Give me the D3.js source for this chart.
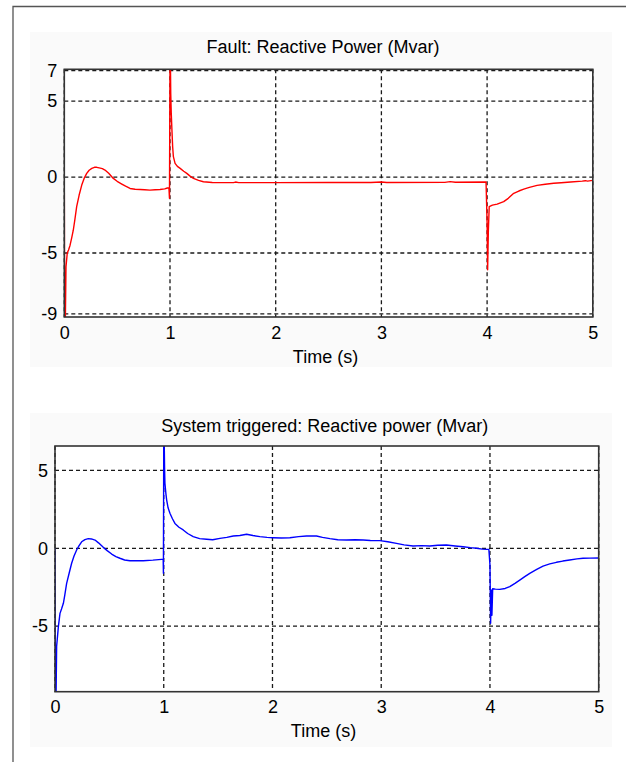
<!DOCTYPE html>
<html>
<head>
<meta charset="utf-8">
<script src="https://cdn.jsdelivr.net/npm/d3@7"></script>
<style>
    html, body { margin: 0; padding: 0; background: #fff; }
    svg { display: block; }
    text { font-family: "Liberation Sans", Arial, sans-serif; fill: #000; }
</style>
</head>
<body>
<div id="chart"></div>
<script>
// --- data --------------------------------------------------------------
var xTicks = [0, 1, 2, 3, 4, 5];
var faultYTicks = [-9, -5, 0, 5, 7];
var systemYTicks = [-5, 0, 5];

var faultTime = [0, 0.003, 0.01, 0.016, 0.028, 0.04, 0.054, 0.07, 0.085, 0.1, 0.117, 0.14, 0.165, 0.19,
    0.212, 0.235, 0.26, 0.285, 0.307, 0.33, 0.36, 0.385, 0.42, 0.464, 0.5, 0.544, 0.58, 0.622, 0.67,
    0.717, 0.76, 0.81, 0.86, 0.906, 0.95, 0.975, 0.99, 0.995, 1.0, 1.004, 1.007, 1.012, 1.017, 1.025,
    1.032, 1.048, 1.07, 1.096, 1.13, 1.159, 1.19, 1.222, 1.27, 1.316, 1.4, 1.6, 1.62, 1.65, 2.0, 2.5,
    2.9, 3.0, 3.05, 3.6, 3.65, 3.7, 3.99, 4.0, 4.005, 4.012, 4.02, 4.05, 4.095, 4.157, 4.2, 4.252, 4.3,
    4.347, 4.4, 4.473, 4.55, 4.63, 4.7, 4.79, 4.9, 4.93, 4.95, 5.0];
var faultQ = [0, -9.4, -9.4, -5.9, -5.0, -4.8, -4.5, -4.0, -3.5, -2.8, -1.95, -1.2, -0.53, -0.05,
    0.24, 0.45, 0.57, 0.64, 0.64, 0.6, 0.55, 0.46, 0.25, -0.09, -0.28, -0.46, -0.6, -0.75, -0.8,
    -0.82, -0.84, -0.86, -0.84, -0.82, -0.78, -0.72, -0.72, -1.4, 7.5, 7.5, 5.5, 4.2, 3.3, 2.0,
    1.34, 0.9, 0.7, 0.57, 0.38, 0.24, 0.06, -0.09, -0.22, -0.31, -0.36, -0.37, -0.33, -0.37, -0.37, -0.36,
    -0.36, -0.33, -0.36, -0.35, -0.3, -0.34, -0.33, -3.0, -6.1, -3.5, -1.95, -1.85, -1.78, -1.62, -1.4, -1.07, -0.92,
    -0.79, -0.68, -0.55, -0.47, -0.41, -0.38, -0.33, -0.27, -0.24, -0.27, -0.22];

var systemTime = [0, 0.003, 0.01, 0.015, 0.031, 0.046, 0.06, 0.077, 0.09, 0.107, 0.13, 0.153, 0.175,
    0.199, 0.22, 0.245, 0.275, 0.306, 0.335, 0.368, 0.4, 0.444, 0.48, 0.521, 0.56, 0.597, 0.64, 0.689,
    0.75, 0.812, 0.9, 0.98, 0.995, 0.997, 1.0, 1.004, 1.008, 1.011, 1.02, 1.027, 1.04, 1.057, 1.08,
    1.103, 1.14, 1.179, 1.22, 1.271, 1.33, 1.394, 1.45, 1.517, 1.58, 1.639, 1.7, 1.762, 1.82, 1.884,
    1.95, 2.006, 2.08, 2.16, 2.24, 2.313, 2.405, 2.46, 2.528, 2.6, 2.681, 2.76, 2.834, 2.9, 2.987,
    3.06, 3.14, 3.21, 3.293, 3.37, 3.447, 3.52, 3.6, 3.68, 3.753, 3.82, 3.876, 3.93, 3.968, 3.99,
    4.0, 4.006, 4.012, 4.018, 4.025, 4.05, 4.09, 4.14, 4.182, 4.23, 4.274, 4.32, 4.366, 4.43, 4.488,
    4.55, 4.611, 4.67, 4.733, 4.8, 4.856, 4.92, 5.0];
var systemQ = [0, -9.4, -9.4, -6.3, -5.03, -4.18, -3.9, -3.53, -3.0, -2.25, -1.6, -0.96, -0.5,
    -0.11, 0.15, 0.42, 0.56, 0.62, 0.6, 0.53, 0.35, 0.06, -0.15, -0.37, -0.53, -0.64, -0.75, -0.8,
    -0.8, -0.8, -0.76, -0.71, -0.71, -1.6, 7, 7, 5.0, 4.17, 3.5, 3.1, 2.6, 2.25, 1.9,
    1.6, 1.35, 1.18, 0.95, 0.75, 0.62, 0.58, 0.55, 0.64, 0.7, 0.79, 0.82, 0.9, 0.82, 0.75,
    0.7, 0.68, 0.66, 0.68, 0.75, 0.79, 0.79, 0.7, 0.62, 0.55, 0.53, 0.55, 0.53, 0.5, 0.49,
    0.42, 0.32, 0.22, 0.15, 0.17, 0.15, 0.2, 0.21, 0.15, 0.1, 0.04, 0, -0.05, -0.07, -0.07,
    -1.07, -4.82, -2.68, -4.3, -2.6, -2.62, -2.64, -2.58, -2.46, -2.25, -2.04, -1.82, -1.61, -1.35, -1.14,
    -1.0, -0.9, -0.82, -0.75, -0.68, -0.64, -0.63, -0.62];

// --- layout -------------------------------------------------------------
var W = 626, H = 762;

var svg = d3.select('#chart').append('svg')
    .attr('width', W)
    .attr('height', H);

// outer window frame
svg.append('path')
    .attr('d', 'M13,762 L13,6.5 L626,6.5')
    .attr('fill', 'none')
    .attr('stroke', '#555')
    .attr('stroke-width', 1.3);

var panels = [
    {
        id: 'fault', title: 'Fault: Reactive Power (Mvar)', color: '#ff0000',
        time: faultTime, values: faultQ, yTicks: faultYTicks, yDomain: [-9.21, 7.09],
        bg: [30, 32, 612, 367], left: 64.3, right: 592.8, top: 69.3, bottom: 317,
        titleX: 323, titleY: 53, labelX: 325.5, labelY: 363, xPad: 9.7
    },
    {
        id: 'system', title: 'System triggered: Reactive power (Mvar)', color: '#0000ff',
        time: systemTime, values: systemQ, yTicks: systemYTicks, yDomain: [-9.21, 6.57],
        bg: [30, 413, 612, 747], left: 55, right: 598.7, top: 446, bottom: 691.7,
        titleX: 324.7, titleY: 431.7, labelX: 323.5, labelY: 736.7, xPad: 8.7
    }
];

panels.forEach(drawPanel);

function drawPanel(p) {
    // light grey figure background
    svg.append('rect')
        .attr('x', p.bg[0]).attr('y', p.bg[1])
        .attr('width', p.bg[2] - p.bg[0])
        .attr('height', p.bg[3] - p.bg[1])
        .attr('fill', '#fafafa');

    var x = d3.scaleLinear().domain([0, 5]).range([p.left, p.right]);
    var y = d3.scaleLinear().domain(p.yDomain).range([p.bottom, p.top]);

    // plot area
    svg.append('rect')
        .attr('x', p.left).attr('y', p.top)
        .attr('width', p.right - p.left)
        .attr('height', p.bottom - p.top)
        .attr('fill', '#fff');

    var grid = svg.append('g').attr('class', 'grid');

    grid.selectAll('line.v')
        .data(xTicks)
        .enter().append('line')
        .attr('class', 'v')
        .attr('x1', d => x(d)).attr('x2', d => x(d))
        .attr('y1', p.top).attr('y2', p.bottom);

    grid.selectAll('line.h')
        .data(p.yTicks)
        .enter().append('line')
        .attr('class', 'h')
        .attr('x1', p.left).attr('x2', p.right)
        .attr('y1', d => y(d)).attr('y2', d => y(d));

    grid.selectAll('line')
        .attr('stroke', '#1a1a1a')
        .attr('stroke-width', 1.3)
        .attr('stroke-dasharray', '4,3');

    // clip the trace to the axes box
    svg.append('clipPath')
        .attr('id', 'clip_' + p.id)
        .append('rect')
        .attr('x', p.left).attr('y', p.top)
        .attr('width', p.right - p.left)
        .attr('height', p.bottom - p.top);

    var line = d3.line()
        .x((d, i) => x(p.time[i]))
        .y(d => y(d));

    svg.append('path')
        .datum(p.values)
        .attr('clip-path', 'url(#clip_' + p.id + ')')
        .attr('fill', 'none')
        .attr('stroke', p.color)
        .attr('stroke-width', 1.4)
        .attr('stroke-linejoin', 'round')
        .attr('d', line);

    // box
    svg.append('rect')
        .attr('x', p.left).attr('y', p.top)
        .attr('width', p.right - p.left)
        .attr('height', p.bottom - p.top)
        .attr('fill', 'none')
        .attr('stroke', '#333')
        .attr('stroke-width', 1.6);

    var xAxis = svg.append('g')
        .attr('transform', 'translate(0,' + p.bottom + ')')
        .call(d3.axisBottom(x).tickValues(xTicks).tickSize(0).tickPadding(p.xPad).tickFormat(d3.format('d')));

    var yAxis = svg.append('g')
        .attr('transform', 'translate(' + p.left + ',0)')
        .call(d3.axisLeft(y).tickValues(p.yTicks).tickSize(0).tickPadding(7).tickFormat(d => d < 0 ? '-' + Math.abs(d) : d));

    [xAxis, yAxis].forEach(function(g) {
        g.select('.domain').remove();
        g.selectAll('text')
            .attr('font-size', 18)
            .attr('font-family', '"Liberation Sans", Arial, sans-serif')
            .attr('fill', '#000');
    });

    svg.append('text')
        .attr('x', p.titleX).attr('y', p.titleY)
        .attr('text-anchor', 'middle')
        .attr('font-size', 18)
        .text(p.title);

    svg.append('text')
        .attr('x', p.labelX).attr('y', p.labelY)
        .attr('text-anchor', 'middle')
        .attr('font-size', 18)
        .text('Time (s)');
}
</script>
</body>
</html>
